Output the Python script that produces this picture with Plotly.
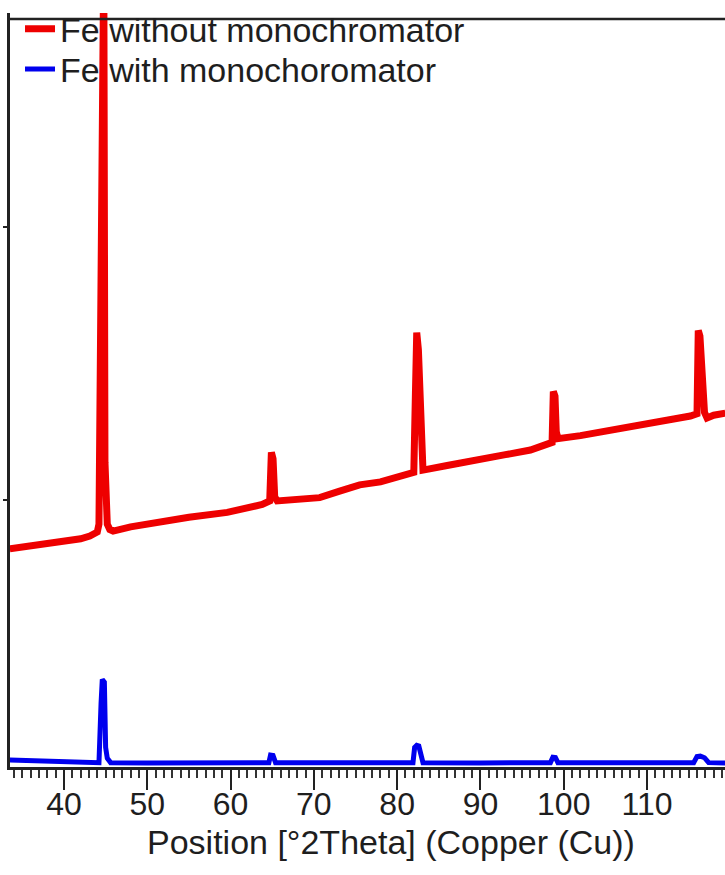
import plotly.graph_objects as go

# ---- data ----
red_name = "Fe without monochromator"
red_x = [33.5, 36.0, 39.5, 42.0, 43.1, 44.0, 44.2, 44.45, 44.62, 44.78, 44.92, 45.05, 45.2, 45.5, 45.9,
         48.0, 51.5, 55.0, 59.6, 62.0, 63.8, 64.7, 64.9, 65.1, 65.3, 65.6, 68.0, 70.7, 73.0, 75.5,
         78.0, 80.3, 82.0, 82.2, 82.35, 82.55, 82.7, 82.85, 83.1, 86.0, 89.9, 93.0, 96.0, 98.0,
         98.6, 98.75, 98.95, 99.1, 99.3, 102.0, 104.0, 106.8, 109.0, 112.0, 115.2, 116.0, 116.15,
         116.35, 116.5, 116.7, 116.9, 117.2, 118.0, 119.4]
red_y = [8195, 8300, 8484, 8560, 8664, 8809, 9100, 20000, 30000, 30000, 11372, 10200, 9100, 8900, 8845,
         9000, 9206, 9350, 9531, 9700, 9819, 9950, 11733, 11500, 10100, 9950, 10000, 10072, 10300, 10542,
         10650, 10830, 11000, 14000, 16137, 15500, 14043, 11500, 11083, 11250, 11444, 11650, 11820, 11986,
         12100, 13971, 13800, 12500, 12238, 12350, 12450, 12600, 12750, 12900, 13069, 13150, 16209,
         16000, 14874, 13900, 13200, 13000, 13100, 13177]

blue_name = "Fe with monochoromator"
blue_x = [33.5, 36.0, 38.0, 40.0, 42.0, 44.2, 44.45, 44.6, 44.85, 45.0, 45.2, 45.6, 50.0, 55.0, 60.0,
          64.6, 64.8, 65.1, 65.4, 70.0, 75.0, 81.9, 82.1, 82.35, 82.6, 82.8, 83.1, 90.0, 98.4, 98.7,
          99.0, 99.3, 105.0, 112.0, 115.6, 116.0, 116.4, 116.9, 117.4, 119.4]
blue_y = [434, 420, 420, 400, 360, 340, 2500, 3394, 3300, 900, 500, 340, 330, 330, 330,
          340, 614, 600, 340, 330, 330, 340, 900, 975, 950, 600, 340, 330, 340, 542,
          530, 340, 330, 330, 340, 560, 578, 520, 340, 330]

x_tick_vals = [40, 50, 60, 70, 80, 90, 100, 110]
x_tick_text = ["40", "50", "60", "70", "80", "90", "100", "110"]
y_tick_vals = [10000, 20000]
x_title = "Position [°2Theta] (Copper (Cu))"

x_range = [33.52, 119.36]
y_range = [180, 27870]
frame_top = 27653

FONT = "Liberation Sans, Arial, sans-serif"
TXT = "#1e1e1e"

fig = go.Figure()
fig.add_trace(go.Scatter(x=red_x, y=red_y, mode="lines", name=red_name, legend="legend",
                         line=dict(color="#ee0000", width=7)))
fig.add_trace(go.Scatter(x=blue_x, y=blue_y, mode="lines", name=blue_name, legend="legend2",
                         line=dict(color="#0000ee", width=5)))

fig.add_shape(type="line", xref="paper", x0=0, x1=1, yref="y", y0=frame_top, y1=frame_top,
              line=dict(color="#222", width=2.5), layer="above")

fig.add_annotation(text=x_title, xref="paper", yref="paper", x=0.533, y=-0.1,
                   showarrow=False, xanchor="center", yanchor="middle",
                   font=dict(family=FONT, size=34, color=TXT))

leg_common = dict(xanchor="left", yanchor="top", bgcolor="rgba(0,0,0,0)",
                  font=dict(family=FONT, size=34, color=TXT), itemwidth=30)

fig.update_layout(
    width=725, height=875,
    margin=dict(l=10, r=0, t=0, b=108),
    paper_bgcolor="white", plot_bgcolor="white",
    font=dict(family=FONT, size=32, color=TXT),
    showlegend=True,
    legend=dict(x=0.014, y=1.0169, **leg_common),
    legend2=dict(x=0.014, y=0.9635, **leg_common),
    xaxis=dict(range=x_range, tickmode="array", tickvals=x_tick_vals, ticktext=x_tick_text,
               ticks="outside", ticklen=20, tickwidth=2, tickcolor="#222",
               ticklabelstandoff=-13,
               showline=True, linewidth=2.5, linecolor="#222", showgrid=False, zeroline=False,
               tickfont=dict(family=FONT, size=32, color=TXT),
               minor=dict(tickmode="linear", tick0=0, dtick=1, ticks="outside", ticklen=8,
                          tickwidth=1.5, tickcolor="#333", showgrid=False)),
    yaxis=dict(range=y_range, tickmode="array", tickvals=y_tick_vals, showticklabels=False,
               ticks="outside", ticklen=4, tickwidth=2, tickcolor="#222",
               showline=True, linewidth=2.5, linecolor="#222", showgrid=False, zeroline=False),
)

fig.write_html("out.html", config={"displayModeBar": False},
               post_script="document.body.style.margin='0';")
